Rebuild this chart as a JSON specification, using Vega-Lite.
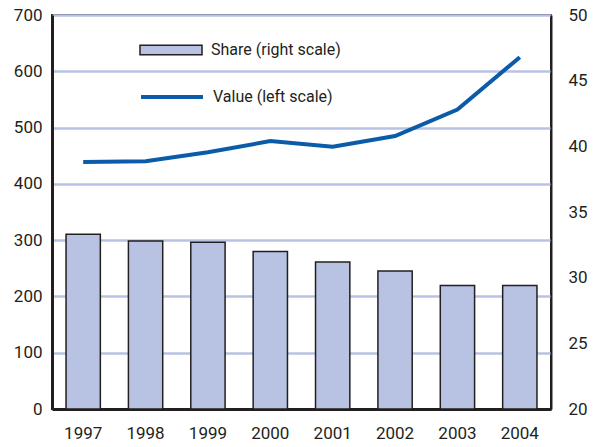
{
  "$schema": "https://vega.github.io/schema/vega-lite/v6.json",
  "width": 499,
  "height": 394,
  "autosize": {"type": "none"},
  "padding": {"left": 52, "top": 15, "right": 47, "bottom": 38},
  "background": "white",
  "config": {
    "font": "Roboto",
    "view": {"stroke": "#231f20", "strokeWidth": 2},
    "axis": {"labelColor": "#231f20", "ticks": false, "title": null}
  },
  "data": {
    "values": [
      {"year": "1997", "share": 33.3, "value": 439},
      {"year": "1998", "share": 32.8, "value": 440},
      {"year": "1999", "share": 32.7, "value": 456},
      {"year": "2000", "share": 32.0, "value": 476},
      {"year": "2001", "share": 31.2, "value": 466},
      {"year": "2002", "share": 30.5, "value": 485},
      {"year": "2003", "share": 29.4, "value": 532},
      {"year": "2004", "share": 29.4, "value": 625}
    ]
  },
  "encoding": {
    "x": {
      "field": "year",
      "type": "ordinal",
      "scale": {"paddingInner": 0.45, "paddingOuter": 0.225},
      "axis": {
        "labelAngle": 0,
        "labelFontSize": 17,
        "labelPadding": 16,
        "domainColor": "#231f20",
        "domainWidth": 3
      }
    }
  },
  "layer": [
    {
      "mark": {"type": "bar", "stroke": "#231f20", "strokeWidth": 1.5},
      "encoding": {
        "y": {
          "field": "share",
          "type": "quantitative",
          "scale": {"domain": [20, 50], "zero": false, "nice": false},
          "axis": {
            "orient": "right",
            "values": [20, 25, 30, 35, 40, 45, 50],
            "grid": false,
            "labelFontSize": 17,
            "labelPadding": 17,
            "domainColor": "#231f20",
            "domainWidth": 2
          }
        },
        "y2": {"datum": 20},
        "fill": {
          "datum": "Share (right scale)",
          "scale": {"range": ["#b8c3e3"]},
          "legend": {
            "orient": "none",
            "legendX": 87,
            "legendY": 3,
            "title": null,
            "padding": 0,
            "symbolType": "M-1,-0.155H1V0.155H-1Z",
            "symbolSize": 3844,
            "symbolStrokeColor": "#231f20",
            "symbolStrokeWidth": 1.5,
            "labelFontSize": 16,
            "labelColor": "#231f20",
            "labelOffset": 8
          }
        }
      }
    },
    {
      "mark": {"type": "line", "strokeWidth": 4},
      "encoding": {
        "y": {
          "field": "value",
          "type": "quantitative",
          "scale": {"domain": [0, 700], "nice": false},
          "axis": {
            "orient": "left",
            "values": [0, 100, 200, 300, 400, 500, 600, 700],
            "grid": true,
            "gridColor": "#b8c3e3",
            "gridWidth": 2.5,
            "gridOpacity": 1,
            "labelFontSize": 17,
            "labelPadding": 10,
            "domainColor": "#231f20",
            "domainWidth": 3
          }
        },
        "stroke": {
          "datum": "Value (left scale)",
          "scale": {"range": ["#0b5ca8"]},
          "legend": {
            "orient": "none",
            "legendX": 87,
            "legendY": 49,
            "title": null,
            "padding": 0,
            "symbolType": "M-1,0H1",
            "symbolSize": 3844,
            "symbolStrokeWidth": 4,
            "labelFontSize": 16,
            "labelColor": "#231f20",
            "labelOffset": 8
          }
        }
      }
    }
  ],
  "resolve": {"scale": {"y": "independent"}}
}
